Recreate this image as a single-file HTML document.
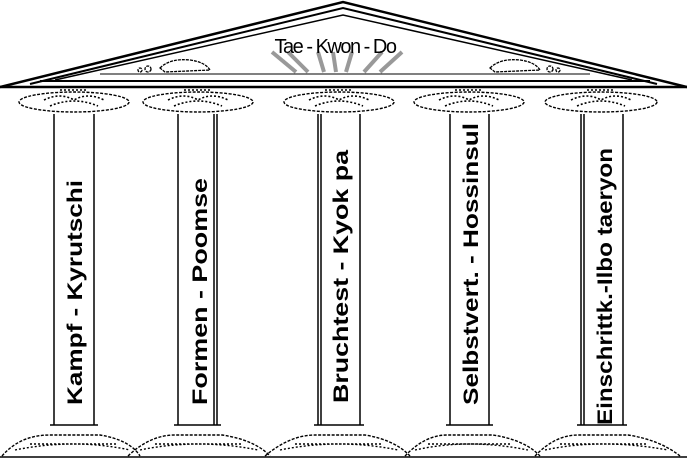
<!DOCTYPE html>
<html><head><style>html,body{margin:0;padding:0;background:#fff;}svg{display:block}</style></head>
<body>
<svg width="687" height="458" viewBox="0 0 687 458" xmlns="http://www.w3.org/2000/svg">
<rect width="687" height="458" fill="#fff"/>
<!-- roof -->
<polyline points="0,87 343,2 687,87" fill="none" stroke="#000" stroke-width="2.5"/>
<polyline points="30,84 343,8 657,84" fill="none" stroke="#000" stroke-width="2"/>
<polyline points="55,80 343,15 632,80" fill="none" stroke="#000" stroke-width="1.5"/>
<line x1="0" y1="87" x2="687" y2="87" stroke="#000" stroke-width="2.5"/>
<line x1="40" y1="81" x2="650" y2="81" stroke="#000" stroke-width="2"/>
<line x1="100" y1="74" x2="590" y2="74" stroke="#000" stroke-width="1"/>
<!-- title rays -->
<g stroke="#777" stroke-width="4" opacity="0.75">
<line x1="272" y1="52" x2="296" y2="72"/><line x1="288" y1="52" x2="308" y2="72"/>
<line x1="318" y1="52" x2="324" y2="72"/><line x1="333" y1="52" x2="336" y2="72"/>
<line x1="352" y1="52" x2="346" y2="72"/><line x1="382" y1="52" x2="364" y2="72"/>
<line x1="402" y1="52" x2="380" y2="72"/>
</g>
<text x="335" y="53" text-anchor="middle" font-family="Liberation Sans, sans-serif" font-size="20" letter-spacing="-1.5" fill="#000">Tae - Kwon - Do</text>
<!-- ornaments -->
<g fill="none" stroke="#000" stroke-width="1.3" stroke-dasharray="3,1">
<path d="M160,68 Q170,58 190,60 Q205,62 210,70 L165,72 Z"/><circle cx="148" cy="69" r="3"/><circle cx="140" cy="70" r="2"/>
<path d="M490,68 Q500,58 520,60 Q535,62 540,70 L495,72 Z"/><circle cx="550" cy="69" r="3"/><circle cx="558" cy="70" r="2"/>
</g>
<g stroke="#000" fill="#fff">
<!-- capitals -->
<g stroke-width="1.4">
<g stroke-dasharray="3,1.5">
<ellipse cx="74" cy="102" rx="55" ry="10"/>
<ellipse cx="198" cy="102" rx="55" ry="10"/>
<ellipse cx="339" cy="102" rx="55" ry="10"/>
<ellipse cx="469" cy="102" rx="55" ry="10"/>
<ellipse cx="601" cy="102" rx="56" ry="10"/>
</g>
<g fill="none" stroke-dasharray="2,2" stroke-width="1.6">
<path d="M44,100 Q60,92 74,100 Q88,92 104,100 M50,106 Q74,96 98,106 M60,90 L88,90"/>
<path d="M168,100 Q184,92 198,100 Q212,92 228,100 M174,106 Q198,96 222,106 M184,90 L212,90"/>
<path d="M309,100 Q325,92 339,100 Q353,92 369,100 M315,106 Q339,96 363,106 M325,90 L353,90"/>
<path d="M439,100 Q455,92 469,100 Q483,92 499,100 M445,106 Q469,96 493,106 M455,90 L483,90"/>
<path d="M571,100 Q587,92 601,100 Q615,92 631,100 M577,106 Q601,96 625,106 M587,90 L615,90"/>
</g>
</g>
<g stroke-width="1.5" fill="none">
<path d="M54,114 V425 M94,114 V425"/>
<path d="M178,114 V425 M217,114 V425 M214,114 V425"/>
<path d="M318,114 V425 M360,114 V425 M321,114 V425"/>
<path d="M450,114 V425 M489,114 V425"/>
<path d="M581,114 V425 M623,114 V425 M584,114 V425"/>
<path d="M50,425 H98 M174,425 H221 M314,425 H364 M446,425 H493 M577,425 H627"/>
</g>
<!-- bases -->
<g stroke-dasharray="3,1.5" stroke-width="1.4" fill="none">
<path d="M2,456 Q20,435 50,435 L100,435 Q130,440 140,456"/>
<path d="M128,456 Q150,435 175,435 L222,435 Q255,440 270,456"/>
<path d="M265,456 Q290,435 315,435 L365,435 Q395,440 410,456"/>
<path d="M405,456 Q425,435 447,435 L493,435 Q525,440 540,456"/>
<path d="M535,456 Q555,435 578,435 L628,435 Q660,440 680,456"/>
</g>
<g stroke-dasharray="2,2" stroke-width="1.4" fill="none">
<path d="M15,450 Q74,438 130,450 M30,444 L118,444"/>
<path d="M140,450 Q198,438 258,450 M155,444 L243,444"/>
<path d="M280,450 Q339,438 398,450 M295,444 L383,444"/>
<path d="M415,450 Q469,438 528,450 M428,444 L512,444"/>
<path d="M545,450 Q601,438 668,450 M560,444 L648,444"/>
</g>
<line x1="0" y1="457" x2="687" y2="457" stroke-width="1.5"/>
</g>
<!-- labels -->
<g font-family="Liberation Sans, sans-serif" font-weight="bold" font-size="21" fill="#000">
<text transform="translate(82,405) rotate(-90)" textLength="225" lengthAdjust="spacingAndGlyphs">Kampf  -  Kyrutschi</text>
<text transform="translate(207,405) rotate(-90)" textLength="227" lengthAdjust="spacingAndGlyphs">Formen  -  Poomse</text>
<text transform="translate(348,403) rotate(-90)" textLength="253" lengthAdjust="spacingAndGlyphs">Bruchtest  -  Kyok pa</text>
<text transform="translate(478,405) rotate(-90)" textLength="282" lengthAdjust="spacingAndGlyphs">Selbstvert.  -  Hossinsul</text>
<text transform="translate(612,425) rotate(-90)" textLength="277" lengthAdjust="spacingAndGlyphs">Einschrittk.-Ilbo taeryon</text>
</g>
</svg>
</body></html>
